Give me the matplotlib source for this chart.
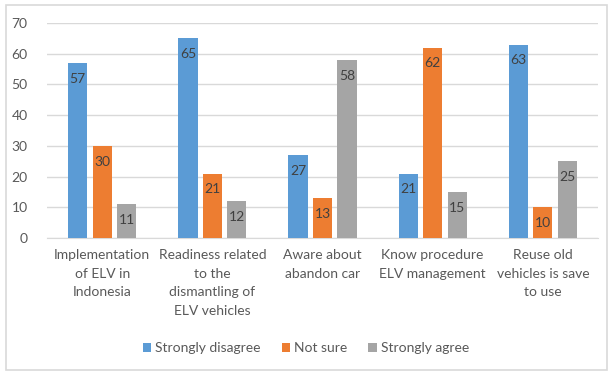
import numpy as np
import matplotlib.pyplot as plt
from matplotlib.patches import Rectangle

categories = [
    "Implementation\nof ELV in\nIndonesia",
    "Readiness related\nto the\ndismantling of\nELV vehicles",
    "Aware about\nabandon car",
    "Know procedure\nELV management",
    "Reuse old\nvehicles is save\nto use",
]
series_names = ["Strongly disagree", "Not sure", "Strongly agree"]
strongly_disagree = [57, 65, 27, 21, 63]
not_sure = [30, 21, 13, 62, 10]
strongly_agree = [11, 12, 58, 15, 25]
y_ticks = [0, 10, 20, 30, 40, 50, 60, 70]

colors = ["#5b9bd5", "#ed7d31", "#a5a5a5"]
plt.rcParams['font.family'] = ['Lato', 'DejaVu Sans']

fig = plt.figure(figsize=(6.12, 3.72), dpi=100)
ax = fig.add_axes([0.077, 0.36, 0.9, 0.578])

x = np.arange(len(categories))
width = 0.175
offset = 0.222
for i, (name, vals) in enumerate(zip(series_names, [strongly_disagree, not_sure, strongly_agree])):
    bars = ax.bar(x + (i - 1) * offset, vals, width, color=colors[i], label=name, zorder=3)
    for b, v in zip(bars, vals):
        ax.annotate(str(v), (b.get_x() + b.get_width() / 2, v), xytext=(0, -7),
                    textcoords="offset points", ha="center", va="top",
                    fontsize=10, color="#404040", zorder=4)

ax.set_xlim(-0.5, len(categories) - 0.5)
ax.set_ylim(0, 70)
ax.set_yticks(y_ticks)
ax.yaxis.grid(True, color="#d9d9d9", linewidth=1, zorder=0)
for s in ["top", "right", "left"]:
    ax.spines[s].set_visible(False)
ax.spines["bottom"].set_color("#d9d9d9")
ax.tick_params(axis="both", length=0, labelsize=10, colors="#595959")
ax.tick_params(axis="y", pad=14)
ax.set_xticks(x)
ax.set_xticklabels(categories, linespacing=1.65)
ax.tick_params(axis="x", pad=8)

fig.legend(loc="center", bbox_to_anchor=(0.5, 0.064), ncol=3, frameon=False,
           fontsize=10, handlelength=0.6, handleheight=0.6, handletextpad=0.3,
           columnspacing=1.5, labelcolor="#595959")

fig.patches.append(Rectangle((0.009, 0.005), 0.983, 0.982, transform=fig.transFigure,
                             fill=False, edgecolor="#d9d9d9", linewidth=1.2))

fig.savefig("out.png", dpi=100)
